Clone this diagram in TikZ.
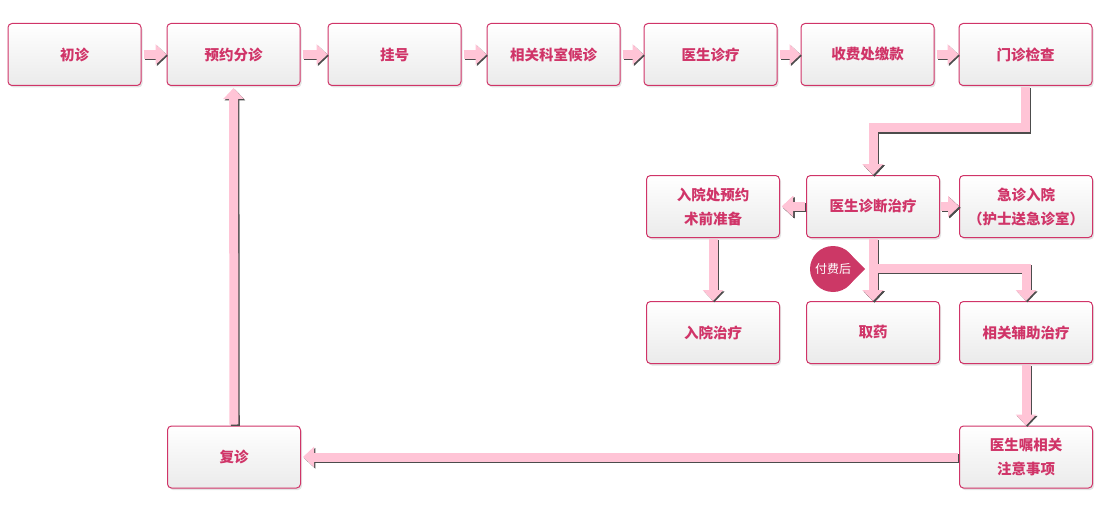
\documentclass[tikz,border=0pt]{standalone}
\usepackage{fontspec}
\newfontfamily\cjk{Noto Sans CJK SC}
\usetikzlibrary{arrows.meta,shadows}
\definecolor{rose}{RGB}{208,52,104}
\definecolor{pinkflow}{RGB}{255,196,214}
\definecolor{tagred}{RGB}{204,56,102}
% thick arrow with a dark edge below right
\newcommand\flowpath[2][]{\draw[flow,draw=black!70,transform canvas={xshift=1.3pt,yshift=-1.3pt},#1] #2;
	\draw[flow,#1] #2;}
\begin{document}
\begin{tikzpicture}[x=1pt,y=-1pt,
	box/.style={draw=rose,line width=1pt,rounded corners=4pt,top color=white,bottom color=black!8,
		minimum width=133pt,minimum height=62pt,text=rose,align=center,
		font=\cjk\bfseries\fontsize{14.5}{24}\selectfont,
		drop shadow={shadow xshift=1.5pt,shadow yshift=-2pt,opacity=0.22}},
	flow/.style={line width=9pt,draw=pinkflow,-{Triangle[length=11pt,width=20pt]}},
	tag/.style={circle,fill=tagred,minimum size=46pt,inner sep=0pt,text=white,
		font=\cjk\fontsize{12}{14}\selectfont}]
	\useasboundingbox (0,0) rectangle (1100,508);
	% top row
	\foreach \n/\x/\t in {cz/74.5/初诊,yyfz/233.5/预约分诊,gh/394.5/挂号,ksdz/553.5/相关科室候诊,
		yszl/710.5/医生诊疗,sfjk/867.5/收费处缴款,mzjc/1025.5/门诊检查}
		\node[box] (\n) at (\x,54.5) {\t};
	% middle rows
	\node[box] (ryyy) at (713,206.5) {入院处预约\\术前准备};
	\node[box] (zdzl) at (873,206.5) {医生诊断治疗};
	\node[box] (jzry) at (1026,206.5) {急诊入院\\（护士送急诊室）};
	\node[box] (ryzl) at (713,332.5) {入院治疗};
	\node[box] (qy) at (873,332.5) {取药};
	\node[box] (fzzl) at (1026,332.5) {相关辅助治疗};
	\node[box] (fz) at (234,457) {复诊};
	\node[box] (yzsx) at (1026,457) {医生嘱相关\\注意事项};
	% arrows
	\foreach \a/\b in {cz/yyfz,yyfz/gh,gh/ksdz,ksdz/yszl,yszl/sfjk,sfjk/mzjc}
		\flowpath[shorten <=2pt]{(\a) -- (\b)}
	\flowpath[shorten <=1pt]{(mzjc.south) -- ++(0,42) -| (zdzl.north)}
	\flowpath[shorten <=1pt,shorten >=2pt]{(zdzl) -- (ryyy)}
	\flowpath[shorten <=1pt]{(zdzl) -- (jzry)}
	\flowpath[shorten <=1pt]{(zdzl) -- (qy)}
	\coordinate (fork) at (877,268);
	\flowpath{(fork) -| (fzzl.north)}
	\flowpath[shorten <=1pt]{(ryyy) -- (ryzl)}
	\flowpath[shorten <=1pt]{(fzzl) -- (yzsx)}
	\flowpath[shorten <=1pt,shorten >=2pt]{(yzsx) -- (fz)}
	\flowpath[shorten <=1pt,shorten >=2pt]{(fz) -- (yyfz)}
	% pay tag
	\fill[tagred] (850,254) -- (865,269) -- (850,284) -- cycle;
	\node[tag] (fee) at (833,269) {付费后};
\end{tikzpicture}
\end{document}
